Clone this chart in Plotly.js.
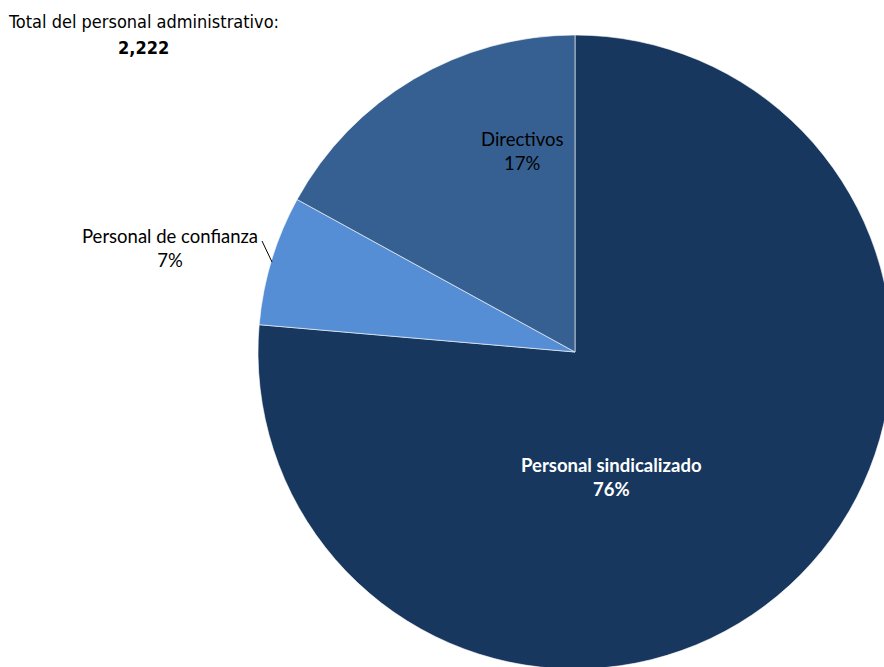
<!DOCTYPE html>
<html><head><meta charset="utf-8">
<script src="https://cdn.plot.ly/plotly-3.0.1.min.js"></script>
<style>html,body{margin:0;padding:0;overflow:hidden;background:#fff;}#chart{width:1150px;height:700px;}</style>
</head><body><div id="chart"></div>
<script>
const categories = ["Personal sindicalizado", "Personal de confianza", "Directivos"];
const values = [1697, 147, 378];
const colors = ["#17375e", "#558ed5", "#376092"];
const totalLabel = "Total del personal administrativo:";
const totalValue = values.reduce((a, b) => a + b, 0);

const W = 1150, H = 700, MT = 35, MB = 31;
const px = x => x / W;
const py = y => (H - MB - y) / (H - MT - MB);
const pct = v => Math.round(100 * v / totalValue) + "%";
const lblFont = {family: "Lato, 'Open Sans', sans-serif", size: 18.5, color: "#000"};
const titleFont = {family: "'Liberation Sans Narrow', 'DejaVu Sans Condensed', 'Arial Narrow', sans-serif", size: 18, color: "#000"};

const data = [{
  type: "pie",
  labels: categories,
  values: values,
  sort: false,
  direction: "clockwise",
  rotation: 0,
  textinfo: "none",
  hoverinfo: "label+percent",
  marker: {colors: colors, line: {color: "#ffffff", width: 0.6}},
  domain: {x: [0, 1], y: [0, 1]},
  showlegend: false
}];

const annotations = [
  {x: px(143), y: py(22), text: totalLabel, font: titleFont},
  {x: px(143), y: py(48), text: "<b>" + totalValue.toLocaleString("en-US") + "</b>", font: titleFont},
  {x: px(611), y: py(477), text: "<b>" + categories[0] + "<br>" + pct(values[0]) + "</b>", font: Object.assign({}, lblFont, {color: "#ffffff"})},
  {x: px(170), y: py(248), text: categories[1] + "<br>" + pct(values[1]), font: lblFont},
  {x: px(522), y: py(151), text: categories[2] + "<br>" + pct(values[2]), font: lblFont}
].map(a => Object.assign({xref: "paper", yref: "paper", showarrow: false, xanchor: "center", yanchor: "middle", align: "center"}, a));

const layout = {
  width: W, height: H,
  margin: {l: 0, r: 0, t: MT, b: MB},
  paper_bgcolor: "#ffffff",
  annotations: annotations,
  shapes: [{type: "line", xref: "paper", yref: "paper", x0: px(262), y0: py(241), x1: px(272), y1: py(262), line: {color: "#000", width: 1}}]
};

Plotly.newPlot("chart", data, layout, {displayModeBar: false, staticPlot: true});
</script></body></html>
